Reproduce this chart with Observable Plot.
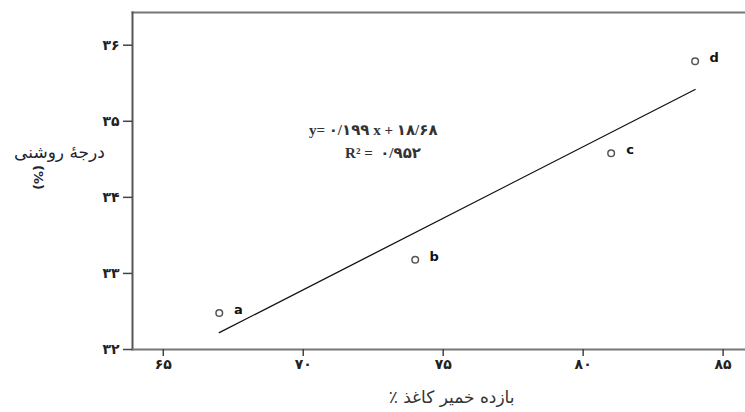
<!DOCTYPE html>
<html>
<head>
<meta charset="utf-8">
<script src="https://cdn.jsdelivr.net/npm/d3@7"></script>
<script src="https://cdn.jsdelivr.net/npm/@observablehq/plot@0.6"></script>
<style>
  html, body { margin: 0; padding: 0; background: white; }
</style>
</head>
<body>
<div id="chart"></div>
<script>
const pointLabels = ["a", "b", "c", "d"];
const xValues = [67, 74, 81, 84];
const yValues = [32.48, 33.18, 34.58, 35.79];

const xTicks = [65, 70, 75, 80, 85];
const xTickLabels = ["۶۵", "۷۰", "۷۵", "۸۰", "۸۵"];
const yTicks = [32, 33, 34, 35, 36];
const yTickLabels = ["۳۲", "۳۳", "۳۴", "۳۵", "۳۶"];

const equationText = "y= ۰/۱۹۹ x + ۱۸/۶۸";
const r2Text = "R² =  ۰/۹۵۲";
const xAxisLabel = "بازده خمیر کاغذ ٪\u200F";
const yAxisLabel = "درجهٔ روشنی";
const yAxisUnit = "(%)";

const data = pointLabels.map((label, i) => ({label, x: xValues[i], y: yValues[i]}));

const chart = Plot.plot({
  width: 745,
  height: 412,
  marginLeft: 132,
  marginRight: 0,
  marginTop: 12,
  marginBottom: 63,
  style: {fontFamily: "DejaVu Sans", background: "white", color: "#222"},
  x: {domain: [63.9, 85.8]},
  y: {domain: [32, 36.43]},
  marks: [
    Plot.frame({anchor: "top", stroke: "#777", strokeWidth: 2}),
    Plot.frame({anchor: "left", stroke: "#555", strokeWidth: 2}),
    Plot.frame({anchor: "bottom", stroke: "#777", strokeWidth: 2}),
    Plot.axisX({
      ticks: xTicks,
      tickFormat: d => xTickLabels[xTicks.indexOf(d)],
      tickSize: 7, tickPadding: 3, fontSize: 14, fontWeight: "bold",
      stroke: "#444", strokeWidth: 1.5, label: null
    }),
    Plot.axisY({
      ticks: yTicks,
      tickFormat: d => yTickLabels[yTicks.indexOf(d)],
      tickSize: 9, tickPadding: 4, fontSize: 14, fontWeight: "bold",
      stroke: "#444", strokeWidth: 1.5, label: null
    }),
    Plot.linearRegressionY(data, {x: "x", y: "y", ci: 0, stroke: "#111", strokeWidth: 1.3}),
    Plot.dot(data, {x: "x", y: "y", r: 3.3, stroke: "#555", strokeWidth: 1.5, fill: "white"}),
    Plot.text(data, {x: "x", y: "y", text: "label", dx: 19, dy: -3, fontSize: 13, fontWeight: "bold", fill: "#111"}),
    Plot.text([equationText], {x: 72.5, y: 34.88, text: d => d, fontSize: 15, fontWeight: "bold", fontFamily: "Liberation Serif, DejaVu Sans", fill: "#333"}),
    Plot.text([r2Text], {x: 72.85, y: 34.58, text: d => d, fontSize: 15, fontWeight: "bold", fontFamily: "Liberation Serif, DejaVu Sans", fill: "#333"}),
    Plot.text([xAxisLabel], {x: 75.3, frameAnchor: "bottom", dy: 53, text: d => d, fontSize: 17, fill: "#333"}),
    Plot.text([yAxisLabel], {y: 34.59, frameAnchor: "left", dx: -73, textAnchor: "middle", text: d => d, fontSize: 17, fill: "#223"}),
    Plot.text([yAxisUnit], {y: 34.26, frameAnchor: "left", dx: -94, textAnchor: "middle", rotate: 90, text: d => d, fontSize: 13, fontWeight: "bold", fill: "#223"})
  ]
});
document.getElementById("chart").appendChild(chart);
</script>
</body>
</html>
